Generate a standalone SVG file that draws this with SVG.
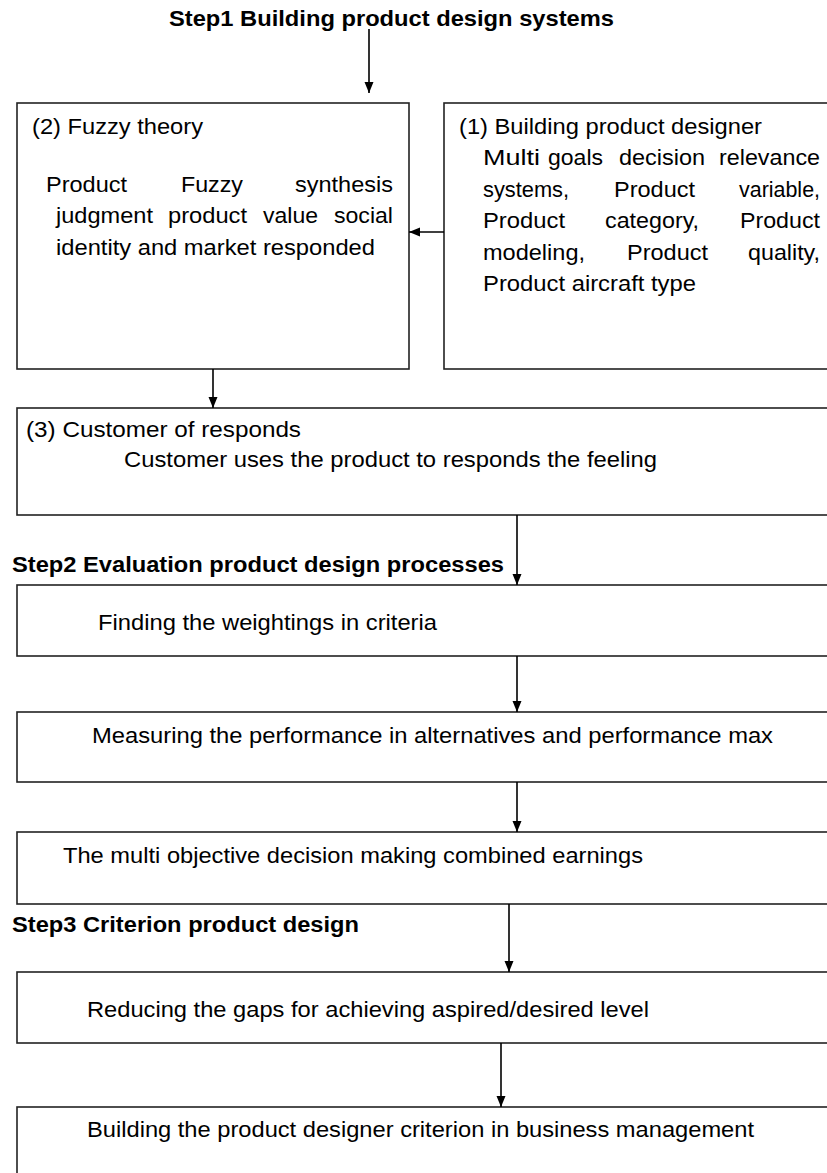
<svg xmlns="http://www.w3.org/2000/svg" width="827" height="1173" viewBox="0 0 827 1173">
<style>
.box{fill:#fff;stroke:#222;stroke-width:1.6}
.t{font-family:"Liberation Sans",Arial,sans-serif;font-size:22px;fill:#000}
.h{font-family:"Liberation Sans",Arial,sans-serif;font-size:22px;font-weight:bold;fill:#000}
.c{stroke:#000;stroke-width:1.6;fill:none;marker-end:url(#ah)}
</style>
<defs>
<marker id="ah" markerUnits="userSpaceOnUse" markerWidth="12" markerHeight="10" refX="11" refY="4.5" orient="auto">
<path d="M0,0 L11,4.5 L0,9 z" fill="#000"/>
</marker>
</defs>
<rect width="827" height="1173" fill="#fff"/>
<g id="titles">
<text class="h" x="169" y="26" textLength="445" lengthAdjust="spacingAndGlyphs">Step1 Building product design systems</text>
<text class="h" x="12" y="572" textLength="492" lengthAdjust="spacingAndGlyphs">Step2 Evaluation product design processes</text>
<text class="h" x="12" y="932" textLength="347" lengthAdjust="spacingAndGlyphs">Step3 Criterion product design</text>
</g>
<g id="n2">
<rect class="box" x="17" y="103" width="392" height="266"/>
<text class="t" x="32" y="134" textLength="171" lengthAdjust="spacingAndGlyphs">(2) Fuzzy theory</text>
<text class="t" x="46" y="192" textLength="81" lengthAdjust="spacingAndGlyphs">Product</text>
<text class="t" x="181" y="192" textLength="62" lengthAdjust="spacingAndGlyphs">Fuzzy</text>
<text class="t" x="295" y="192" textLength="98" lengthAdjust="spacingAndGlyphs">synthesis</text>
<text class="t" x="56" y="223" textLength="97" lengthAdjust="spacingAndGlyphs">judgment</text>
<text class="t" x="168" y="223" textLength="79" lengthAdjust="spacingAndGlyphs">product</text>
<text class="t" x="263" y="223" textLength="55" lengthAdjust="spacingAndGlyphs">value</text>
<text class="t" x="334" y="223" textLength="59" lengthAdjust="spacingAndGlyphs">social</text>
<text class="t" x="56" y="255" textLength="319" lengthAdjust="spacingAndGlyphs">identity and market responded</text>
</g>
<g id="n1">
<rect class="box" x="444" y="103" width="400" height="266"/>
<text class="t" x="459" y="134" textLength="303" lengthAdjust="spacingAndGlyphs">(1) Building product designer</text>
<text class="t" x="483" y="165" textLength="57" lengthAdjust="spacingAndGlyphs">Multi</text>
<text class="t" x="548" y="165" textLength="55" lengthAdjust="spacingAndGlyphs">goals</text>
<text class="t" x="619" y="165" textLength="86" lengthAdjust="spacingAndGlyphs">decision</text>
<text class="t" x="719" y="165" textLength="101" lengthAdjust="spacingAndGlyphs">relevance</text>
<text class="t" x="483" y="197" textLength="86" lengthAdjust="spacingAndGlyphs">systems,</text>
<text class="t" x="614" y="197" textLength="81" lengthAdjust="spacingAndGlyphs">Product</text>
<text class="t" x="739" y="197" textLength="81" lengthAdjust="spacingAndGlyphs">variable,</text>
<text class="t" x="483" y="228" textLength="82" lengthAdjust="spacingAndGlyphs">Product</text>
<text class="t" x="605" y="228" textLength="94" lengthAdjust="spacingAndGlyphs">category,</text>
<text class="t" x="740" y="228" textLength="80" lengthAdjust="spacingAndGlyphs">Product</text>
<text class="t" x="483" y="260" textLength="102" lengthAdjust="spacingAndGlyphs">modeling,</text>
<text class="t" x="627" y="260" textLength="81" lengthAdjust="spacingAndGlyphs">Product</text>
<text class="t" x="748" y="260" textLength="72" lengthAdjust="spacingAndGlyphs">quality,</text>
<text class="t" x="483" y="291" textLength="213" lengthAdjust="spacingAndGlyphs">Product aircraft type</text>
</g>
<g id="n3">
<rect class="box" x="17" y="408" width="830" height="107"/>
<text class="t" x="26" y="437" textLength="275" lengthAdjust="spacingAndGlyphs">(3) Customer of responds</text>
<text class="t" x="124" y="467" textLength="533" lengthAdjust="spacingAndGlyphs">Customer uses the product to responds the feeling</text>
</g>
<g id="n4">
<rect class="box" x="17" y="585" width="830" height="71"/>
<text class="t" x="98" y="630" textLength="339" lengthAdjust="spacingAndGlyphs">Finding the weightings in criteria</text>
</g>
<g id="n5">
<rect class="box" x="17" y="712" width="830" height="70"/>
<text class="t" x="92" y="743" textLength="681" lengthAdjust="spacingAndGlyphs">Measuring the performance in alternatives and performance max</text>
</g>
<g id="n6">
<rect class="box" x="17" y="832" width="830" height="72"/>
<text class="t" x="63" y="863" textLength="580" lengthAdjust="spacingAndGlyphs">The multi objective decision making combined earnings</text>
</g>
<g id="n7">
<rect class="box" x="17" y="972" width="830" height="71"/>
<text class="t" x="87" y="1017" textLength="562" lengthAdjust="spacingAndGlyphs">Reducing the gaps for achieving aspired/desired level</text>
</g>
<g id="n8">
<rect class="box" x="17" y="1107" width="830" height="90"/>
<text class="t" x="87" y="1137" textLength="667" lengthAdjust="spacingAndGlyphs">Building the product designer criterion in business management</text>
</g>
<g id="connectors">
<line class="c" x1="369" y1="29" x2="369" y2="93"/>
<line class="c" x1="444" y1="232" x2="409" y2="232"/>
<line class="c" x1="213" y1="369" x2="213" y2="408"/>
<line class="c" x1="517" y1="515" x2="517" y2="585"/>
<line class="c" x1="517" y1="656" x2="517" y2="712"/>
<line class="c" x1="517" y1="782" x2="517" y2="832"/>
<line class="c" x1="509" y1="904" x2="509" y2="972"/>
<line class="c" x1="501" y1="1043" x2="501" y2="1107"/>
</g>
</svg>
